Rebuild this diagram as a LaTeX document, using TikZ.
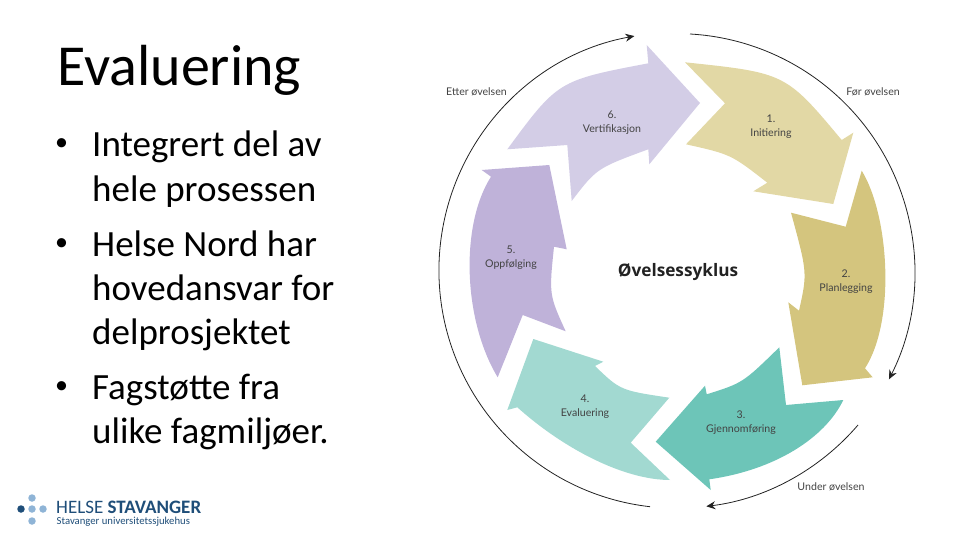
\documentclass[tikz,border=0pt]{standalone}
\usepackage{fontspec}
\setmainfont{Carlito}
\newfontfamily\lato{Lato}
\newfontfamily\osans{Open Sans}
\usetikzlibrary{arrows.meta}
\definecolor{cSix}{HTML}{D3CDE6}
\definecolor{cOne}{HTML}{E2D8A5}
\definecolor{cTwo}{HTML}{D4C57E}
\definecolor{cThree}{HTML}{6DC5B8}
\definecolor{cFour}{HTML}{A2D9D1}
\definecolor{cFive}{HTML}{BFB2D9}
\definecolor{cInk}{HTML}{222222}
\definecolor{cLogoD}{HTML}{1F4E79}
\definecolor{cLogoL}{HTML}{8FB4D6}
\tikzset{
  titletext/.style={anchor=base west,inner sep=0pt,font=\fontsize{58}{58}\selectfont,text=black},
  bodytext/.style={anchor=base west,inner sep=0pt,font=\fontsize{37}{37}\selectfont,text=black},
  bullettext/.style={anchor=base west,inner sep=0pt,font=\fontsize{26}{26}\selectfont,text=black},
  steplabel/.style={align=center,inner sep=0pt,font=\lato\fontsize{10.6}{14}\selectfont,text=cInk!85},
  phaselabel/.style={anchor=center,inner sep=0pt,font=\lato\fontsize{10.6}{13}\selectfont,text=cInk!85},
  ring/.style={draw=cInk,line width=.8pt,-{Stealth[length=9pt,width=8pt]}},
  logodot/.style={circle,inner sep=0pt,minimum size=7.5pt},
}
\begin{document}
\begin{tikzpicture}[x=1pt,y=-1pt]
\useasboundingbox (0,0) rectangle (960,540);
% arrows
\fill[cSix] (507.3,149.3) -- (567.3,145) -- (571.7,201)
  .. controls (596.7,168.3) .. (648.3,149.3)
  -- (649.3,164.3) -- (700,103) -- (646.7,45) -- (648.3,63.3)
  .. controls (558,80.5) .. (507.3,149.3) -- cycle;
\fill[cOne] (685,62.3) -- (725,103.3) -- (686,144.3)
  .. controls (731,154.4) .. (767.3,182.7)
  -- (753.3,191.3) -- (833.3,204) -- (853.3,132.7) -- (841.7,140)
  .. controls (785.6,72.9) .. (685,62.3) -- cycle;
\fill[cTwo] (791,212.7) -- (845.7,226.7) -- (861.7,170.7)
  .. controls (889,215) and (896,320) .. (865,368.3)
  -- (872.7,377.3) -- (802.3,385.3) -- (788.3,302.3) -- (799,310.7)
  .. controls (807.4,272.8) .. (791,212.7) -- cycle;
\fill[cThree] (779.3,347.3) -- (786,405) -- (843.3,400)
  .. controls (825,438) and (775,470) .. (709.3,479.3)
  -- (710.7,490) -- (655.7,441.7) -- (705,385.7) -- (706.7,394.3)
  .. controls (742.7,383) .. (779.3,347.3) -- cycle;
\fill[cFour] (533.3,339) -- (603.3,361.7) -- (595,366)
  .. controls (620.4,390.4) .. (669.3,397.7)
  -- (630.7,442.7) -- (670,480)
  .. controls (625,480) and (565,450) .. (517.3,407.3)
  -- (507.3,410) -- cycle;
\fill[cFive] (481.7,170) -- (549.3,165) -- (566.7,249.3) -- (554,246.7)
  .. controls (549,294.7) .. (565.7,331.3)
  -- (522.7,315) -- (497.7,377.3)
  .. controls (463,320) and (460,225) .. (491,176.7) -- cycle;
% ring arcs
\coordinate (arcAstart) at (650,506.7);
\coordinate (arcBstart) at (690,34);
\coordinate (arcCstart) at (858,425);
\draw[ring] (arcAstart) arc[start angle=263.5,end angle=100.3,radius=238pt];
\draw[ring] (arcBstart) arc[start angle=86.8,end angle=-26.9,radius=238pt];
\draw[ring] (arcCstart) arc[start angle=-40.6,end angle=-83,radius=238pt];
% cycle labels
\node[steplabel] (s6) at (612,123) {6.\\Vertifikasjon};
\node[steplabel] (s1) at (771,127) {1.\\Initiering};
\node[steplabel] (s2) at (846,281.5) {2.\\Planlegging};
\node[steplabel] (s3) at (741,423) {3.\\Gjennomføring};
\node[steplabel] (s4) at (585,407) {4.\\Evaluering};
\node[steplabel] (s5) at (511,258) {5.\\Oppfølging};
\node[inner sep=0pt,font=\osans\bfseries\fontsize{17.2}{18}\selectfont,text=cInk] (centre) at (678,272) {Øvelsessyklus};
\node[phaselabel] (etter) at (476.5,92) {Etter øvelsen};
\node[phaselabel] (foer) at (873,92) {Før øvelsen};
\node[phaselabel] (under) at (831,487) {Under øvelsen};
% slide text
\node[titletext] (title) at (57,86) {Evaluering};
\node[bullettext] (b1) at (55,151) {•};
\node[bodytext] (l1) at (92,157) {Integrert del av};
\node[bodytext] (l2) at (92,201.5) {hele prosessen};
\node[bullettext] (b2) at (55,250) {•};
\node[bodytext] (l3) at (92,256) {Helse Nord har};
\node[bodytext] (l4) at (92,300) {hovedansvar for};
\node[bodytext] (l5) at (92,344) {delprosjektet};
\node[bullettext] (b3) at (55,393) {•};
\node[bodytext] (l6) at (92,399) {Fagstøtte fra};
\node[bodytext] (l7) at (92,443) {ulike fagmiljøer.};
% logo
\node[logodot,fill=cLogoL] (d1) at (32,498) {};
\node[logodot,fill=cLogoD] (d2) at (21,509) {};
\node[logodot,fill=cLogoL] (d3) at (32,509) {};
\node[logodot,fill=cLogoL] (d4) at (43,509) {};
\node[logodot,fill=cLogoL] (d5) at (32,521) {};
\node[anchor=base west,inner sep=0pt,font=\fontsize{19}{19}\selectfont,text=cLogoD] (lg1) at (56,513) {HELSE \textbf{STAVANGER}};
\node[anchor=base west,inner sep=0pt,font=\fontsize{10.7}{11}\selectfont,text=cLogoD] (lg2) at (56.5,524) {Stavanger universitetssjukehus};
\end{tikzpicture}
\end{document}
